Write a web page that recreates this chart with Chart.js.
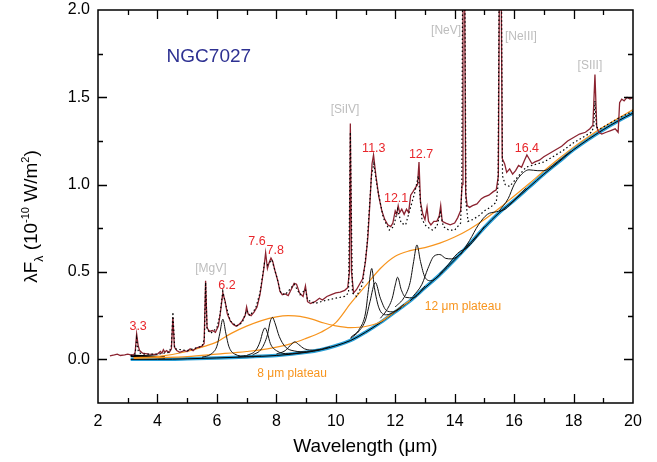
<!DOCTYPE html>
<html>
<head>
<meta charset="utf-8">
<script src="https://cdn.jsdelivr.net/npm/chart.js@4.4.0/dist/chart.umd.min.js"></script>
<style>
  html, body { margin: 0; padding: 0; background: #fff; }
  #wrap { width: 657px; height: 462px; }
</style>
</head>
<body>
<div id="wrap"><canvas id="spec"></canvas></div>
<script>
// wavelength (um), lambda F_lambda (1e-10 W/m2)
const observed = [
  [2.40,0.020],[2.55,0.025],[2.65,0.030],[2.75,0.022],[2.90,0.025],[3.00,0.030],[3.10,0.025],[3.20,0.025],
  [3.25,0.040],[3.30,0.145],[3.35,0.080],[3.40,0.050],[3.50,0.035],[3.70,0.030],[3.90,0.028],[4.00,0.030],
  [4.10,0.045],[4.15,0.035],[4.20,0.055],[4.25,0.040],[4.30,0.050],[4.40,0.040],[4.47,0.060],[4.52,0.240],
  [4.57,0.070],[4.65,0.050],[4.75,0.040],[4.90,0.050],[5.00,0.045],[5.10,0.060],[5.20,0.050],[5.30,0.065],
  [5.40,0.070],[5.50,0.075],[5.57,0.090],[5.62,0.450],[5.67,0.180],[5.75,0.160],[5.85,0.165],[5.95,0.155],
  [6.05,0.190],[6.12,0.270],[6.20,0.380],[6.28,0.330],[6.35,0.260],[6.45,0.220],[6.55,0.200],[6.65,0.190],
  [6.75,0.200],[6.85,0.220],[6.95,0.250],[7.00,0.300],[7.05,0.260],[7.15,0.250],[7.25,0.270],[7.35,0.300],
  [7.45,0.370],[7.52,0.450],[7.58,0.520],[7.64,0.610],[7.70,0.520],[7.75,0.550],[7.82,0.580],[7.88,0.560],
  [7.95,0.510],[8.05,0.450],[8.12,0.390],[8.20,0.370],[8.30,0.375],[8.40,0.365],[8.50,0.400],[8.60,0.435],
  [8.68,0.430],[8.78,0.380],[8.90,0.360],[8.98,0.420],[9.05,0.330],[9.15,0.320],[9.30,0.330],[9.45,0.350],
  [9.55,0.340],[9.70,0.360],[9.85,0.370],[10.00,0.380],[10.15,0.385],[10.30,0.395],[10.40,0.410],[10.46,0.500],
  [10.49,1.350],[10.53,0.500],[10.60,0.380],[10.70,0.400],[10.80,0.430],[10.90,0.460],[11.00,0.560],[11.08,0.700],
  [11.15,0.900],[11.22,1.120],[11.27,1.170],[11.35,1.050],[11.45,0.930],[11.55,0.850],[11.65,0.800],[11.75,0.770],
  [11.85,0.760],[11.92,0.780],[12.00,0.850],[12.05,0.830],[12.10,0.880],[12.15,0.840],[12.22,0.860],[12.30,0.830],
  [12.38,0.860],[12.45,0.840],[12.52,0.940],[12.60,0.960],[12.67,0.980],[12.75,1.000],[12.80,1.130],[12.85,0.900],
  [12.93,0.830],[13.00,0.800],[13.07,0.870],[13.12,0.790],[13.20,0.770],[13.30,0.790],[13.40,0.790],[13.48,0.820],
  [13.53,0.880],[13.58,0.790],[13.70,0.780],[13.85,0.770],[14.00,0.780],[14.10,0.810],[14.20,0.850],[14.25,1.000],
  [14.28,2.300],[14.33,2.300],[14.37,0.950],[14.42,0.880],[14.50,0.870],[14.60,0.880],[14.75,0.890],[14.90,0.920],
  [15.00,0.930],[15.15,0.940],[15.30,0.960],[15.40,0.970],[15.47,1.050],[15.51,2.300],[15.56,2.300],[15.60,1.150],
  [15.68,1.120],[15.75,1.070],[15.85,1.090],[15.95,1.060],[16.05,1.080],[16.15,1.110],[16.25,1.100],[16.35,1.140],
  [16.43,1.170],[16.50,1.150],[16.60,1.120],[16.70,1.130],[16.85,1.140],[17.00,1.160],[17.20,1.180],[17.40,1.200],
  [17.60,1.220],[17.80,1.250],[18.00,1.270],[18.20,1.290],[18.40,1.300],[18.55,1.320],[18.65,1.340],[18.72,1.630],
  [18.78,1.330],[18.85,1.300],[18.95,1.290],[19.10,1.300],[19.25,1.310],[19.40,1.320],[19.50,1.300],[19.55,1.470],
  [19.62,1.490],[19.70,1.480],[19.80,1.500],[19.90,1.490],[20.00,1.500]
];

const model = [
  [3.10,0.020],[3.25,0.030],[3.30,0.120],[3.36,0.040],[3.50,0.030],[4.00,0.030],[4.40,0.040],[4.47,0.080],
  [4.52,0.270],[4.58,0.060],[5.00,0.050],[5.50,0.075],[5.58,0.120],[5.62,0.440],[5.67,0.170],[5.80,0.150],
  [6.00,0.180],[6.10,0.250],[6.20,0.390],[6.30,0.310],[6.45,0.220],[6.65,0.190],[6.85,0.210],[7.00,0.280],
  [7.10,0.250],[7.30,0.290],[7.45,0.380],[7.60,0.550],[7.70,0.540],[7.85,0.570],[8.00,0.480],[8.15,0.380],
  [8.30,0.370],[8.60,0.430],[8.80,0.370],[8.98,0.400],[9.05,0.340],[9.30,0.320],[9.60,0.335],[10.00,0.350],
  [10.30,0.360],[10.43,0.380],[10.49,1.300],[10.56,0.380],[10.70,0.360],[10.90,0.430],[11.05,0.650],[11.20,1.050],
  [11.28,1.120],[11.40,0.980],[11.60,0.810],[11.80,0.740],[11.95,0.760],[12.08,0.860],[12.20,0.780],[12.35,0.770],
  [12.50,0.860],[12.65,0.950],[12.78,1.050],[12.90,0.800],[13.05,0.760],[13.25,0.740],[13.40,0.760],[13.52,0.840],
  [13.62,0.760],[13.80,0.740],[14.00,0.740],[14.20,0.780],[14.24,1.000],[14.27,2.300],[14.34,2.300],[14.38,0.900],
  [14.45,0.790],[14.60,0.800],[14.80,0.820],[15.00,0.850],[15.20,0.870],[15.40,0.900],[15.46,1.000],[15.50,2.300],
  [15.57,2.300],[15.61,1.050],[15.70,1.000],[15.85,0.990],[16.00,1.020],[16.20,1.060],[16.40,1.100],[16.60,1.110],
  [16.80,1.120],[17.00,1.130],[17.30,1.160],[17.60,1.190],[18.00,1.240],[18.40,1.280],[18.60,1.300],[18.68,1.330],
  [18.72,1.480],[18.77,1.330],[18.90,1.320],[19.20,1.350],[19.50,1.380],[20.00,1.420]
];

const continuum = [
  [3.10,0.000],[4.00,0.000],[5.00,0.003],[6.00,0.008],[7.00,0.014],[8.00,0.022],[9.00,0.040],[9.50,0.055],
  [10.00,0.078],[10.50,0.108],[11.00,0.155],[11.50,0.210],[12.00,0.272],[12.50,0.335],[13.00,0.410],[13.50,0.485],
  [14.00,0.570],[14.50,0.660],[15.00,0.755],[15.50,0.840],[16.00,0.910],[16.50,0.985],[17.00,1.060],[17.50,1.130],
  [18.00,1.200],[18.50,1.260],[19.00,1.315],[19.50,1.365],[20.00,1.410]
];

const baseStart = [[3.10,0.020],[3.50,0.018],[4.00,0.014],[4.25,0.011]];

const plateau8 = [
  [3.20,0.010],[4.00,0.016],[5.00,0.045],[5.50,0.070],[6.00,0.100],[6.50,0.150],[7.00,0.190],[7.50,0.222],
  [8.00,0.243],[8.40,0.250],[8.80,0.246],[9.20,0.230],[9.60,0.208],[10.00,0.192],[10.50,0.182],[11.00,0.188],
  [11.50,0.215],[12.00,0.275],[12.50,0.337]
];

const plateau12 = [
  [3.20,0.006],[4.00,0.010],[5.00,0.016],[6.00,0.030],[7.00,0.045],[7.70,0.060],[8.50,0.090],[9.00,0.120],
  [9.50,0.155],[10.00,0.210],[10.50,0.320],[11.00,0.420],[11.50,0.520],[12.00,0.590],[12.50,0.622],[13.00,0.640],
  [13.50,0.665],[14.00,0.700],[14.50,0.745],[15.00,0.800],[15.50,0.865],[16.00,0.935],[16.50,1.005],[17.00,1.078],
  [17.50,1.148],[18.00,1.215],[18.50,1.275],[19.00,1.330],[19.50,1.380],[20.00,1.430]
];

// individual band profiles (continuum included)
const band62 = [[5.50,0.012],[5.80,0.030],[6.00,0.075],[6.10,0.150],[6.20,0.230],[6.30,0.150],[6.40,0.075],[6.60,0.030],[7.00,0.017],[7.50,0.018]];
const band69 = [[6.70,0.013],[6.85,0.018],[6.95,0.021],[7.05,0.017],[7.25,0.015]];
const band76 = [[7.00,0.022],[7.30,0.050],[7.45,0.100],[7.55,0.160],[7.62,0.180],[7.70,0.150],[7.80,0.090],[8.00,0.050],[8.40,0.032],[9.00,0.042]];
const band78 = [[7.20,0.025],[7.50,0.060],[7.70,0.140],[7.80,0.220],[7.87,0.240],[7.95,0.210],[8.10,0.130],[8.30,0.072],[8.60,0.048],[9.00,0.043],[9.50,0.058]];
const band86 = [[8.00,0.030],[8.30,0.050],[8.50,0.085],[8.62,0.100],[8.75,0.085],[8.95,0.060],[9.30,0.052],[9.80,0.072]];
const band112 = [[10.50,0.125],[10.80,0.175],[11.00,0.265],[11.10,0.400],[11.21,0.520],[11.30,0.410],[11.45,0.295],[11.70,0.255],[12.20,0.295]];
const band113 = [[10.50,0.120],[10.80,0.165],[11.00,0.225],[11.15,0.330],[11.33,0.440],[11.50,0.350],[11.70,0.280],[11.90,0.272],[12.30,0.315]];
const band120 = [[11.50,0.235],[11.70,0.278],[11.90,0.350],[12.00,0.425],[12.08,0.470],[12.20,0.400],[12.35,0.355],[12.60,0.352],[13.00,0.420]];
const band127 = [[12.00,0.300],[12.30,0.355],[12.50,0.440],[12.62,0.560],[12.73,0.655],[12.85,0.560],[13.00,0.470],[13.20,0.450],[13.60,0.500]];
const band135 = [[12.60,0.360],[12.90,0.430],[13.10,0.520],[13.30,0.590],[13.50,0.600],[13.70,0.578],[13.90,0.575],[14.20,0.605],[14.50,0.665]];
const band142 = [[13.50,0.490],[13.80,0.545],[14.00,0.590],[14.20,0.620],[14.35,0.630],[14.60,0.670],[15.00,0.760]];
const band153 = [[14.20,0.600],[14.50,0.680],[14.80,0.770],[15.10,0.830],[15.40,0.845],[15.70,0.860],[16.00,0.910],[16.40,0.980]];
const band165 = [[15.50,0.850],[15.80,0.920],[16.00,1.000],[16.20,1.050],[16.50,1.085],[16.80,1.080],[17.00,1.080],[17.30,1.110],[17.60,1.150],[17.90,1.190]];
const bands = [band62, band69, band76, band78, band86, band112, band113, band120, band127, band135, band142, band153, band165];

const xTickLabels = [2, 4, 6, 8, 10, 12, 14, 16, 18, 20];
const yTickLabels = [0.0, 0.5, 1.0, 1.5, 2.0];
const xMarks = [3, 4, 5, 6, 7, 8, 9, 10, 11, 12, 13, 14, 15, 16, 17, 18, 19];
const yMarks = [0, 0.25, 0.5, 0.75, 1.0, 1.25, 1.5, 1.75];

// annotations: [text, wavelength, flux, colour, font size]
const notes = [
  ['NGC7027', 5.73, 1.735, '#2e3192', 19],
  ['3.3', 3.35, 0.19, '#e8262b', 12.5],
  ['6.2', 6.34, 0.425, '#e8262b', 12.5],
  ['7.6', 7.35, 0.672, '#e8262b', 12.5],
  ['7.8', 7.96, 0.62, '#e8262b', 12.5],
  ['11.3', 11.28, 1.207, '#e8262b', 12.5],
  ['12.1', 12.03, 0.92, '#e8262b', 12.5],
  ['12.7', 12.87, 1.17, '#e8262b', 12.5],
  ['16.4', 16.43, 1.207, '#e8262b', 12.5],
  ['[MgV]', 5.80, 0.517, '#bdbdbd', 12],
  ['[SiIV]', 10.31, 1.43, '#bdbdbd', 12],
  ['[NeV]', 13.71, 1.88, '#bdbdbd', 12],
  ['[NeIII]', 16.23, 1.845, '#bdbdbd', 12],
  ['[SIII]', 18.55, 1.68, '#bdbdbd', 12],
  ['8 \u03bcm plateau', 8.53, -0.08, '#f7941d', 12],
  ['12 \u03bcm plateau', 14.28, 0.30, '#f7941d', 12]
];

const FONT = '"Liberation Sans", Arial, sans-serif';
const pts = arr => arr.map(p => ({x: p[0], y: p[1]}));

function line(arr, color, width, extra) {
  return Object.assign({
    data: pts(arr), borderColor: color, borderWidth: width,
    pointRadius: 0, fill: false, tension: 0
  }, extra || {});
}

const datasets = [];
datasets.push(line(model, '#000', 1.2, {borderDash: [1.5, 2.5]}));
datasets.push(line(observed, '#8b2330', 1.3));
bands.forEach(b => datasets.push(line(b, '#111', 1, {cubicInterpolationMode: 'monotone'})));
datasets.push(line(plateau8, '#f7941d', 1.2, {cubicInterpolationMode: 'monotone'}));
datasets.push(line(plateau12, '#f7941d', 1.2, {cubicInterpolationMode: 'monotone'}));
datasets.push(line(baseStart, '#000', 2.5, {cubicInterpolationMode: 'monotone'}));
datasets.push(line(continuum, '#000', 1, {cubicInterpolationMode: 'monotone'}));
datasets.push(line(continuum, '#2a9fd6', 3.5, {cubicInterpolationMode: 'monotone'}));

const decor = {
  id: 'decor',
  afterDraw(chart) {
    const {ctx, chartArea: a, scales: {x, y}} = chart;
    ctx.save();
    // labels
    ctx.textAlign = 'center';
    ctx.textBaseline = 'middle';
    notes.forEach(n => {
      ctx.fillStyle = n[3];
      ctx.font = n[4] + 'px ' + FONT;
      ctx.fillText(n[0], x.getPixelForValue(n[1]), y.getPixelForValue(n[2]));
    });
    // frame and inward ticks
    ctx.strokeStyle = '#000';
    ctx.lineWidth = 1.5;
    ctx.strokeRect(a.left, a.top, a.right - a.left, a.bottom - a.top);
    ctx.lineWidth = 1.3;
    ctx.beginPath();
    xMarks.forEach(v => {
      const px = Math.round(x.getPixelForValue(v)) + 0.5;
      const len = v % 2 === 0 ? 9 : 5;
      ctx.moveTo(px, a.bottom); ctx.lineTo(px, a.bottom - len);
      ctx.moveTo(px, a.top); ctx.lineTo(px, a.top + len);
    });
    yMarks.forEach(v => {
      const py = Math.round(y.getPixelForValue(v)) + 0.5;
      const len = Math.abs(v * 2 - Math.round(v * 2)) < 1e-6 ? 9 : 5;
      ctx.moveTo(a.left, py); ctx.lineTo(a.left + len, py);
      ctx.moveTo(a.right, py); ctx.lineTo(a.right - len, py);
    });
    ctx.stroke();
    // y title with sub/superscripts
    const segs = [
      ['\u03bbF', 19, 0], ['\u03bb', 12, 6], [' (10', 19, 0], ['-10', 11, -8],
      [' W/m', 19, 0], ['2', 11, -8], [')', 19, 0]
    ];
    let total = 0;
    segs.forEach(s => { ctx.font = s[1] + 'px ' + FONT; total += ctx.measureText(s[0]).width; });
    ctx.translate(30, (a.top + a.bottom) / 2 + 10);
    ctx.rotate(-Math.PI / 2);
    ctx.fillStyle = '#000';
    ctx.textAlign = 'left';
    ctx.textBaseline = 'alphabetic';
    let cx = -total / 2;
    segs.forEach(s => {
      ctx.font = s[1] + 'px ' + FONT;
      ctx.fillText(s[0], cx, 7 + s[2]);
      cx += ctx.measureText(s[0]).width;
    });
    ctx.restore();
  }
};

new Chart(document.getElementById('spec'), {
  type: 'line',
  data: {datasets: datasets},
  options: {
    responsive: true,
    maintainAspectRatio: false,
    animation: false,
    layout: {padding: {top: 10, right: 24, left: 0, bottom: 0}},
    plugins: {legend: {display: false}, tooltip: {enabled: false}},
    scales: {
      x: {
        type: 'linear', min: 2, max: 20,
        grid: {display: false, drawTicks: false}, border: {display: false},
        afterBuildTicks: s => { s.ticks = xTickLabels.map(v => ({value: v})); },
        afterFit: s => { s.height = 59; s.paddingLeft = 0; s.paddingRight = 0; },
        ticks: {color: '#000', padding: 9, font: {family: FONT, size: 16}, maxRotation: 0,
                callback: v => String(v)},
        title: {display: true, text: 'Wavelength (\u03bcm)', color: '#000',
                font: {family: FONT, size: 19}, padding: {top: 10}}
      },
      y: {
        type: 'linear', min: -0.25, max: 2.0,
        grid: {display: false, drawTicks: false}, border: {display: false},
        afterBuildTicks: s => { s.ticks = yTickLabels.map(v => ({value: v})); },
        afterFit: s => { s.width = 98; s.paddingTop = 0; s.paddingBottom = 0; },
        ticks: {color: '#000', padding: 8, font: {family: FONT, size: 16},
                callback: v => Number(v).toFixed(1)}
      }
    }
  },
  plugins: [decor]
});
</script>
</body>
</html>
